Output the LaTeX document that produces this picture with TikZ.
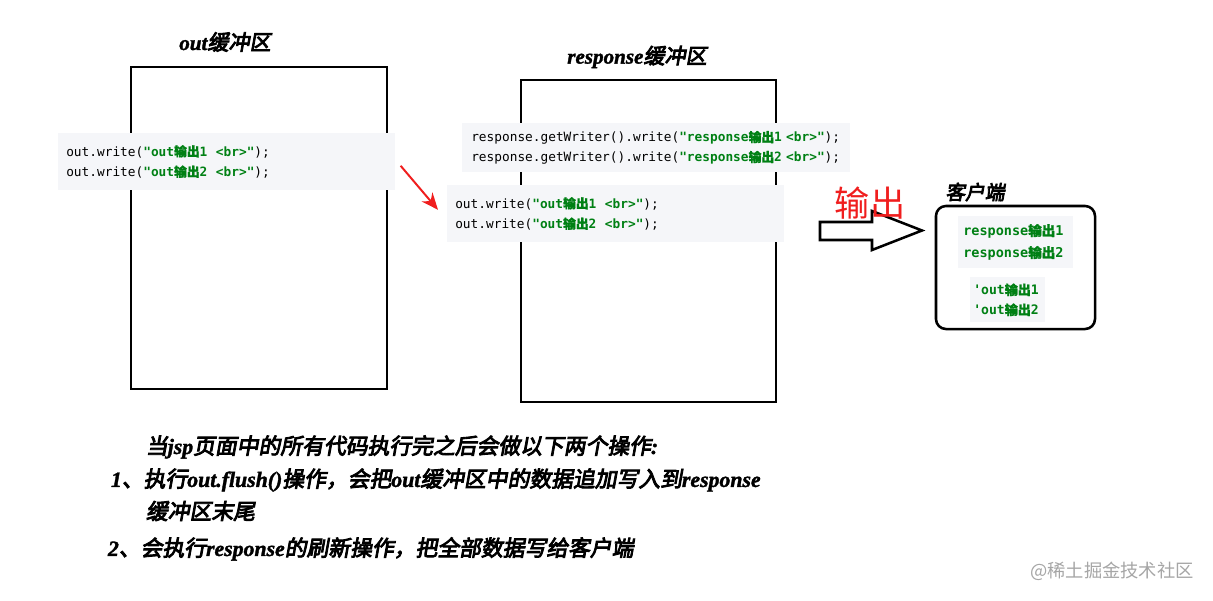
\documentclass[tikz,border=0pt]{standalone}
\usepackage{fontspec}
\usepackage{tikz}
\usetikzlibrary{arrows.meta}

\newfontfamily\monof{DejaVu Sans Mono}
\newfontfamily\serbi{Liberation Serif}[UprightFont=*/BI,FakeBold=1.6]
\newfontfamily\cjkf{Noto Sans CJK SC}
\newfontfamily\cjkb{Noto Sans CJK SC}[FakeBold=1.2]
\newfontfamily\cjkbi{Noto Sans CJK SC}[FakeBold=4,FakeSlant=0.18]

\definecolor{codegreen}{RGB}{0,128,20}
\definecolor{panelbg}{RGB}{245,246,249}
\definecolor{outred}{RGB}{240,30,30}

\newcommand{\latbi}[1]{{\serbi #1}}
\newcommand{\hanbi}[1]{{\cjkbi #1}}
\newcommand{\zh}[1]{{\cjkb #1}}
\newcommand{\grn}[1]{\textcolor{codegreen}{\bfseries #1}}

\begin{document}
\begin{tikzpicture}[x=0.025cm,y=-0.025cm,
  bx/.style={draw,line width=1.8pt,inner sep=0pt},
  ttl/.style={font=\fontsize{15}{18}\selectfont},
  code/.style={fill=panelbg,anchor=north west,align=left,inner sep=0pt,
    text width=#1,font=\fontsize{9.1}{14.5}\selectfont\monof},
  cli/.style={fill=panelbg,anchor=north west,align=left,inner sep=0pt,
    font=\fontsize{9.6}{15.6}\selectfont\monof\bfseries,text=codegreen},
  note/.style={anchor=west,font=\fontsize{15.5}{18}\selectfont}]

\useasboundingbox[fill=white] (0,0) rectangle (1213,600);

% out buffer
\node[bx,minimum width=6.4cm,minimum height=8.05cm] (O) at (259,228) {};
\node[ttl] (Ot) at (225,42) {\latbi{out}\hanbi{缓冲区}};

% response buffer
\node[bx,minimum width=6.375cm,minimum height=8.05cm] (R) at (648.5,241) {};
\node[ttl] (Rt) at (637,57) {\latbi{response}\hanbi{缓冲区}};

% code written into the buffers
\node[code=8.025cm,minimum height=1.425cm,inner xsep=0.2cm] (P1) at (58,133)
  {out.write(\grn{"out\zh{输出}1\ \ <br>"});\\
   out.write(\grn{"out\zh{输出}2\ \ <br>"});};
\node[code=9.25cm,minimum height=1.225cm,inner xsep=0.225cm,
  font=\fontsize{9.1}{14.2}\selectfont\monof] (P2) at (462,123)
  {response.getWriter().write(\grn{"response\zh{输出}1 <br>"});\\
   response.getWriter().write(\grn{"response\zh{输出}2 <br>"});};
\node[code=8.025cm,minimum height=1.425cm,inner xsep=0.2cm] (P3) at (447,185)
  {out.write(\grn{"out\zh{输出}1\ \ <br>"});\\
   out.write(\grn{"out\zh{输出}2\ \ <br>"});};

\draw[outred,line width=1.4pt,-{Stealth[length=12pt,width=10pt]}]
  ([shift={(5,4)}]P1.east) -- ([shift={(-9,-4)}]P3.west);

% output arrow
\draw[line width=1.8pt,fill=white] (820,222) -- (872,222) -- (872,211)
  -- (922,230.5) -- (872,250) -- (872,240) -- (820,240) -- cycle;
\node[text=outred,font=\fontsize{25}{28}\selectfont\cjkf] (Out) at (870,203) {输出};

% client
\node[ttl,font=\fontsize{14}{16}\selectfont] (Ct) at (975,192) {\hanbi{客户端}};
\node[bx,rounded corners=0.25cm,minimum width=3.975cm,minimum height=3.075cm]
  (C) at (1015.5,267.5) {};
\node[cli,minimum width=2.875cm,minimum height=1.3cm,inner xsep=0.125cm,text width=2.625cm] (Ca) at (958,216)
  {response\zh{输出}1\\response\zh{输出}2};
\node[cli,minimum width=1.875cm,minimum height=1.125cm,inner xsep=0.075cm,text width=1.725cm,
  font=\fontsize{9.3}{14.2}\selectfont\monof\bfseries] (Cb) at (970,277)
  {'out\zh{输出}1\\'out\zh{输出}2};

% notes
\node[note] (N1) at (141,447) {\hanbi{当}\latbi{jsp}\hanbi{页面中的所有代码执行完之后会做以下两个操作}\latbi{:}};
\node[note] (N2) at (106,480) {\latbi{1}\hanbi{、执行}\latbi{out.flush()}\hanbi{操作，会把}\latbi{out}\hanbi{缓冲区中的数据追加写入到}\latbi{response}};
\node[note] (N3) at (141,511) {\hanbi{缓冲区末尾}};
\node[note] (N4) at (103,549) {\latbi{2}\hanbi{、会执行}\latbi{response}\hanbi{的刷新操作，把全部数据写给客户端}};

\node[text=black!35,font=\fontsize{13}{15}\selectfont\cjkf] (W) at (1112,571) {@稀土掘金技术社区};
\end{tikzpicture}
\end{document}
